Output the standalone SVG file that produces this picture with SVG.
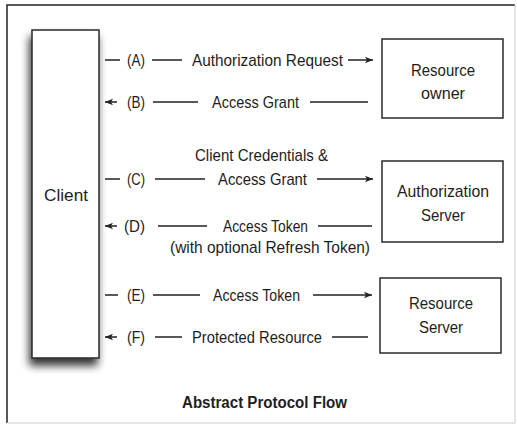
<svg xmlns="http://www.w3.org/2000/svg" width="517" height="428" viewBox="0 0 517 428">
<defs>
<style>
text{font-family:"Liberation Sans",Arial,sans-serif;font-size:17px;fill:#1e1e1e}
.c{text-anchor:middle}
.b{font-weight:bold;font-size:16px}
.box{fill:#fff;stroke:#2a2a2a;stroke-width:1.5}
.ln{fill:none;stroke:#222;stroke-width:1.3}
</style>
<marker id="ah" markerUnits="userSpaceOnUse" markerWidth="10" markerHeight="10" refX="8" refY="4" orient="auto">
<path d="M0,0.8 L8,4 L0,7.2 L2,4 z" fill="#222"/>
</marker>
<filter id="sh" x="-40%" y="-10%" width="180%" height="125%">
<feGaussianBlur in="SourceAlpha" stdDeviation="4"/>
<feOffset dx="-2" dy="7" result="o"/>
<feComponentTransfer><feFuncA type="linear" slope="0.8"/></feComponentTransfer>
<feMerge><feMergeNode/><feMergeNode in="SourceGraphic"/></feMerge>
</filter>
</defs>
<rect x="0" y="0" width="517" height="428" fill="#fff"/>
<path d="M7,423 V5 H515" fill="none" stroke="#222" stroke-width="1.5"/>
<path d="M515,5 V423 H7" fill="none" stroke="#ccc" stroke-width="1"/>

<g id="client">
<rect class="box" x="32" y="30" width="67" height="328" filter="url(#sh)"/>
<text class="c" x="66" y="201" textLength="44" lengthAdjust="spacingAndGlyphs">Client</text>
</g>
<g id="resource-owner">
<rect class="box" x="382" y="39" width="121" height="79"/>
<text class="c" x="443" y="76" textLength="64" lengthAdjust="spacingAndGlyphs">Resource</text>
<text class="c" x="443" y="99" textLength="44" lengthAdjust="spacingAndGlyphs">owner</text>
</g>
<g id="authorization-server">
<rect class="box" x="382" y="161" width="121" height="81"/>
<text class="c" x="443" y="197" textLength="92" lengthAdjust="spacingAndGlyphs">Authorization</text>
<text class="c" x="443" y="221" textLength="44" lengthAdjust="spacingAndGlyphs">Server</text>
</g>
<g id="resource-server">
<rect class="box" x="380" y="278" width="121" height="75"/>
<text class="c" x="441" y="309" textLength="64" lengthAdjust="spacingAndGlyphs">Resource</text>
<text class="c" x="441" y="333" textLength="44" lengthAdjust="spacingAndGlyphs">Server</text>
</g>

<g id="connectors">
<path class="ln" d="M105,60 H120 M152,60 H182 M348,60 H373" marker-end="url(#ah)"/>
<path class="ln" d="M368,102 H310 M198,102 H153 M117,102 H105" marker-end="url(#ah)"/>
<path class="ln" d="M105,179 H120 M155,179 H205 M317,179 H373" marker-end="url(#ah)"/>
<path class="ln" d="M372,226 H318 M207,226 H158 M117,226 H105" marker-end="url(#ah)"/>
<path class="ln" d="M105,295 H118 M153,295 H200 M313,295 H372" marker-end="url(#ah)"/>
<path class="ln" d="M368,337 H332 M182,337 H155 M117,337 H105" marker-end="url(#ah)"/>
</g>

<g id="labels">
<text x="127" y="66" textLength="18" lengthAdjust="spacingAndGlyphs">(A)</text>
<text x="192" y="66" textLength="151" lengthAdjust="spacingAndGlyphs">Authorization Request</text>
<text x="127" y="108" textLength="18" lengthAdjust="spacingAndGlyphs">(B)</text>
<text x="212" y="108" textLength="87" lengthAdjust="spacingAndGlyphs">Access Grant</text>
<text x="195" y="161" textLength="133" lengthAdjust="spacingAndGlyphs">Client Credentials &amp;</text>
<text x="127" y="185" textLength="18" lengthAdjust="spacingAndGlyphs">(C)</text>
<text x="218" y="185" textLength="89" lengthAdjust="spacingAndGlyphs">Access Grant</text>
<text x="124" y="232" textLength="21" lengthAdjust="spacingAndGlyphs">(D)</text>
<text x="223" y="232" textLength="85" lengthAdjust="spacingAndGlyphs">Access Token</text>
<text x="170" y="253" textLength="200" lengthAdjust="spacingAndGlyphs">(with optional Refresh Token)</text>
<text x="127" y="301" textLength="18" lengthAdjust="spacingAndGlyphs">(E)</text>
<text x="213" y="301" textLength="87" lengthAdjust="spacingAndGlyphs">Access Token</text>
<text x="127" y="343" textLength="18" lengthAdjust="spacingAndGlyphs">(F)</text>
<text x="192" y="343" textLength="130" lengthAdjust="spacingAndGlyphs">Protected Resource</text>
<text class="b" x="182" y="408" textLength="165" lengthAdjust="spacingAndGlyphs">Abstract Protocol Flow</text>
</g>
</svg>
